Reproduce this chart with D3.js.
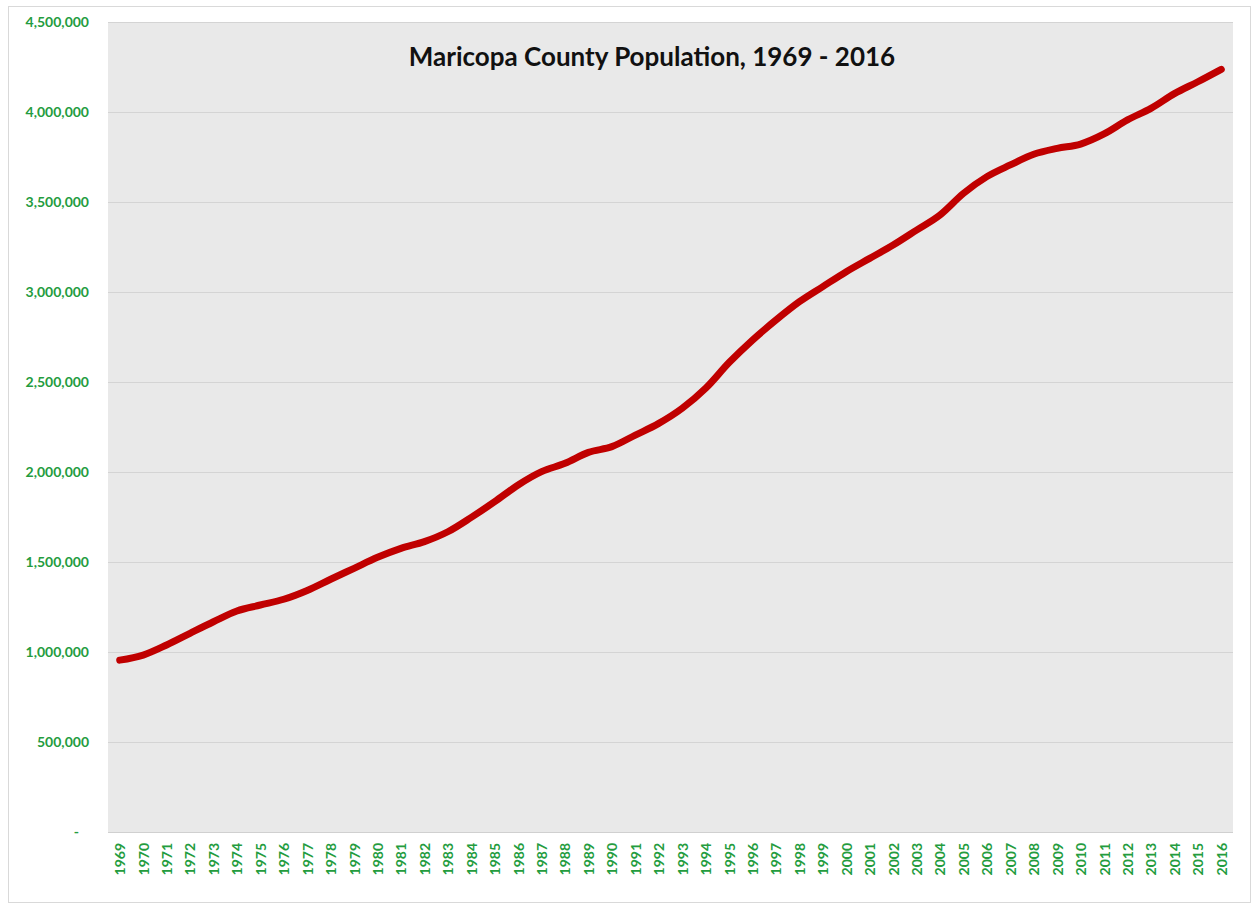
<!DOCTYPE html>
<html>
<head>
<meta charset="utf-8">
<script src="https://cdn.jsdelivr.net/npm/d3@7"></script>
<style>
  body { margin: 0; background: #fff; }
  svg { display: block; }
</style>
</head>
<body>
<div id="chart"></div>
<script>
const years = d3.range(1969, 2017).map(String);
const population = [
  955000, 983000, 1039000, 1104000, 1168000, 1228000, 1261000, 1293000, 1342000, 1404000,
  1465000, 1526000, 1576000, 1613000, 1668000, 1748000, 1835000, 1928000, 2002000, 2048000,
  2109000, 2141000, 2205000, 2270000, 2354000, 2465000, 2608000, 2733000, 2844000, 2946000,
  3030000, 3113000, 3187000, 3261000, 3344000, 3428000, 3548000, 3641000, 3706000, 3765000,
  3798000, 3822000, 3878000, 3956000, 4020000, 4102000, 4168000, 4237000
];
const yTicks = [0, 500000, 1000000, 1500000, 2000000, 2500000, 3000000, 3500000, 4000000, 4500000];
const title = "Maricopa County Population, 1969 - 2016";

const W = 1252, H = 905;
const margin = { top: 22, right: 19, bottom: 73, left: 108 };
const width = W - margin.left - margin.right;
const height = H - margin.top - margin.bottom;

const root = d3.select("#chart").append("svg")
  .attr("width", W)
  .attr("height", H);

// outer chart border
root.append("rect")
  .attr("x", 8.5).attr("y", 6.5)
  .attr("width", W - 10).attr("height", H - 9)
  .attr("fill", "#fff")
  .attr("stroke", "#d9d9d9");

const svg = root.append("g")
  .attr("transform", `translate(${margin.left},${margin.top})`);

svg.append("rect")
  .attr("width", width).attr("height", height)
  .attr("fill", "#e9e9e9");

const x = d3.scalePoint()
  .domain(years)
  .range([0, width])
  .padding(0.5);

const y = d3.scaleLinear()
  .domain([0, 4500000])
  .range([height, 0]);

// gridlines
svg.selectAll(".grid")
  .data(yTicks.filter(d => d > 0))
  .enter().append("line")
  .attr("class", "grid")
  .attr("x1", 0).attr("x2", width)
  .attr("y1", d => Math.round(y(d)) + 0.5)
  .attr("y2", d => Math.round(y(d)) + 0.5)
  .attr("stroke", "#d4d4d4");

svg.append("line")
  .attr("x1", 0).attr("x2", width)
  .attr("y1", height + 0.5).attr("y2", height + 0.5)
  .attr("stroke", "#d0d0d0");

const green = "#249c3e";
const fmt = d3.format(",");
const labelFont = "Lato, 'Open Sans', sans-serif";

const yAxis = svg.append("g")
  .attr("transform", "translate(-16,0)")
  .call(d3.axisLeft(y).tickValues(yTicks).tickSize(0).tickFormat(d => d === 0 ? "-" : fmt(d)));
yAxis.select(".domain").remove();
yAxis.selectAll("text")
  .attr("fill", green)
  .attr("font-family", labelFont)
  .attr("font-weight", "bold")
  .attr("font-size", "14px");
yAxis.selectAll(".tick").filter(d => d === 0).select("text")
  .attr("dx", "-10px");

const xAxis = svg.append("g")
  .attr("transform", `translate(0,${height})`)
  .call(d3.axisBottom(x).tickSize(0));
xAxis.select(".domain").remove();
xAxis.selectAll("text")
  .attr("fill", green)
  .attr("font-family", labelFont)
  .attr("font-weight", "bold")
  .attr("font-size", "14px")
  .attr("transform", "rotate(-90)")
  .attr("text-anchor", "end")
  .attr("x", -11)
  .attr("y", 0)
  .attr("dy", "0.35em");

const line = d3.line()
  .x((d, i) => x(years[i]))
  .y(d => y(d))
  .curve(d3.curveMonotoneX);

svg.append("path")
  .datum(population)
  .attr("d", line)
  .attr("fill", "none")
  .attr("stroke", "#c00000")
  .attr("stroke-width", 7)
  .attr("stroke-linecap", "round")
  .attr("stroke-linejoin", "round");

root.append("text")
  .attr("x", 652)
  .attr("y", 66)
  .attr("text-anchor", "middle")
  .attr("font-family", labelFont)
  .attr("font-weight", "bold")
  .attr("font-size", "26px")
  .attr("fill", "#111")
  .text(title);
</script>
</body>
</html>
